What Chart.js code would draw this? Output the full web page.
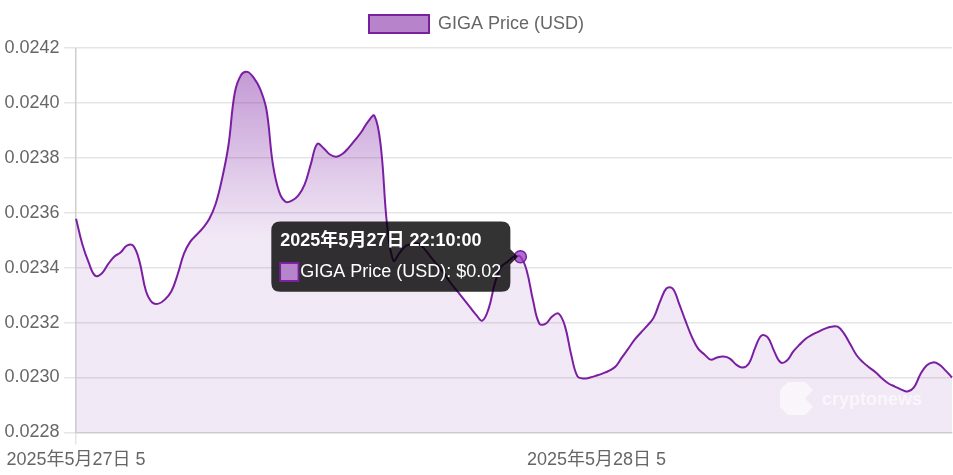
<!DOCTYPE html>
<html>
<head>
<meta charset="utf-8">
<script src="https://cdn.jsdelivr.net/npm/chart.js@4/dist/chart.umd.min.js"></script>
<style>
html,body{margin:0;padding:0;background:#fff;}
#wrap{width:953px;height:475px;position:relative;}
canvas{display:block;}
</style>
</head>
<body>
<div id="wrap"><canvas id="c" width="953" height="475"></canvas></div>
<script>
// ---- data ----
const seriesLabel = 'GIGA Price (USD)';
const prices = [
0.023578,0.023484,0.023418,0.023371,0.023378,0.023411,0.023440,0.023455,0.023480,0.023480,
0.023422,0.023316,0.023273,0.023269,0.023284,0.023313,0.023375,0.023451,0.023495,0.023520,
0.023545,0.023578,0.023633,0.023724,0.023844,0.024036,0.024102,0.024113,0.024091,0.024051,
0.023975,0.023778,0.023676,0.023640,0.023644,0.023662,0.023702,0.023778,0.023851,0.023835,
0.023812,0.023804,0.023815,0.023838,0.023866,0.023896,0.023932,0.023953,0.023844,0.023556,
0.023425,0.023455,0.023480,0.023487,0.023487,0.023465,0.023436,0.023407,0.023378,0.023345,
0.023316,0.023287,0.023258,0.023229,0.023207,0.023251,0.023345,0.023404,0.023422,0.023440,
0.023440,0.023389,0.023280,0.023196,0.023196,0.023222,0.023233,0.023189,0.023084,0.023004,
0.022996,0.023000,0.023007,0.023015,0.023025,0.023040,0.023073,0.023105,0.023138,0.023164,
0.023189,0.023218,0.023276,0.023324,0.023324,0.023269,0.023207,0.023149,0.023105,0.023084,
0.023065,0.023073,0.023076,0.023069,0.023047,0.023036,0.023051,0.023109,0.023153,0.023145,
0.023095,0.023055,0.023062,0.023095,0.023120,0.023142,0.023156,0.023167,0.023178,0.023185,
0.023185,0.023160,0.023120,0.023080,0.023055,0.023036,0.023018,0.022996,0.022978,0.022967,
0.022956,0.022949,0.022964,0.023011,0.023044,0.023055,0.023047,0.023025,0.023000
];
const tickLabels = ['2025年5月27日 5', '2025年5月28日 5'];
const tickIndices = [0, 82];
const hoverIndex = 70;
const firstTime = [2025, 5, 27, 10, 30];   // year, month, day, hour, minute
const stepMinutes = 10;
const yMin = 0.0228, yMax = 0.0242, yStep = 0.0002;

// ---- category labels (timestamps) ----
const timeLabels = prices.map((_, i) => {
  const d = new Date(firstTime[0], firstTime[1] - 1, firstTime[2], firstTime[3], firstTime[4] + i * stepMinutes);
  const p = n => String(n).padStart(2, '0');
  return `${d.getFullYear()}年${d.getMonth() + 1}月${d.getDate()}日 ${d.getHours()}:${p(d.getMinutes())}:${p(d.getSeconds())}`;
});

const LINE = '#7B1FA2';
const FONT = "'Liberation Sans', Arial, 'Noto Sans CJK JP', sans-serif";
const canvas = document.getElementById('c');
const ctx = canvas.getContext('2d');
const grad = ctx.createLinearGradient(0, 0, 0, 237.5);
grad.addColorStop(0, 'rgba(123,31,162,0.6)');
grad.addColorStop(1, 'rgba(123,31,162,0.1)');

const legendGap = {
  id: 'legendGap',
  beforeInit(chart) {
    const orig = chart.legend.fit;
    chart.legend.fit = function () { orig.call(this); this.height += 5; };
  }
};

const watermark = {
  id: 'watermark',
  afterDatasetsDraw(chart) {
    const c = chart.ctx;
    c.save();
    c.fillStyle = 'rgba(255,255,255,0.6)';
    c.beginPath();
    c.moveTo(788, 382); c.lineTo(805, 382); c.lineTo(813, 390); c.lineTo(805, 398.5);
    c.lineTo(813, 407); c.lineTo(805, 415); c.lineTo(788, 415); c.lineTo(780, 407);
    c.lineTo(780, 390); c.closePath();
    c.fill();
    c.font = "bold 18px 'Liberation Sans', Arial, sans-serif";
    c.textBaseline = 'alphabetic';
    c.textAlign = 'left';
    c.fillText('cryptonews', 822, 405);
    c.restore();
  }
};

const chart = new Chart(canvas, {
  type: 'line',
  data: {
    labels: timeLabels,
    datasets: [{
      label: seriesLabel,
      data: prices,
      borderColor: LINE,
      backgroundColor: 'rgba(123,31,162,0.55)',
      borderWidth: 2,
      tension: 0.4,
      fill: { target: 'start', above: grad, below: grad },
      pointRadius: 0,
      pointHoverRadius: 6,
      pointHoverBorderWidth: 1.5,
      pointHoverBackgroundColor: 'rgba(150,60,190,0.75)',
      pointHoverBorderColor: LINE
    }]
  },
  options: {
    responsive: false,
    animation: false,
    devicePixelRatio: 1,
    interaction: { mode: 'index', intersect: false },
    layout: { padding: 0 },
    plugins: {
      legend: {
        labels: { boxWidth: 60, boxHeight: 18, padding: 15, color: '#666', font: { family: FONT, size: 18 } }
      },
      tooltip: {
        padding: 9, caretSize: 7.5, caretPadding: 3, cornerRadius: 9,
        titleFont: { family: FONT, size: 18, weight: 'bold' },
        bodyFont: { family: FONT, size: 18 },
        titleMarginBottom: 9,
        callbacks: {
          label: c => `${c.dataset.label}: $${c.parsed.y.toFixed(2)}`
        }
      }
    },
    scales: {
      x: {
        grid: {
          lineWidth: 1.5, tickLength: 12,
          color: c => tickIndices.includes(c.index) ? 'rgba(0,0,0,0.1)' : 'rgba(0,0,0,0)'
        },
        border: { color: 'rgba(0,0,0,0.1)', width: 1.5 },
        ticks: {
          autoSkip: false, maxRotation: 0, minRotation: 0, padding: 4.5,
          color: '#666', font: { family: FONT, size: 18 },
          callback: (v, i) => { const k = tickIndices.indexOf(i); return k >= 0 ? tickLabels[k] : null; }
        }
      },
      y: {
        min: yMin, max: yMax,
        grid: { lineWidth: 1.5, tickLength: 12, color: 'rgba(0,0,0,0.1)' },
        border: { color: 'rgba(0,0,0,0.1)', width: 1.5 },
        ticks: {
          stepSize: yStep, padding: 4.5, color: '#666', font: { family: FONT, size: 18 },
          callback: v => Number(v).toFixed(4)
        }
      }
    }
  },
  plugins: [legendGap, watermark]
});

const pt = chart.getDatasetMeta(0).data[hoverIndex];
chart.setActiveElements([{ datasetIndex: 0, index: hoverIndex }]);
chart.tooltip.setActiveElements([{ datasetIndex: 0, index: hoverIndex }], { x: pt.x, y: pt.y });
chart.update();
</script>
</body>
</html>
